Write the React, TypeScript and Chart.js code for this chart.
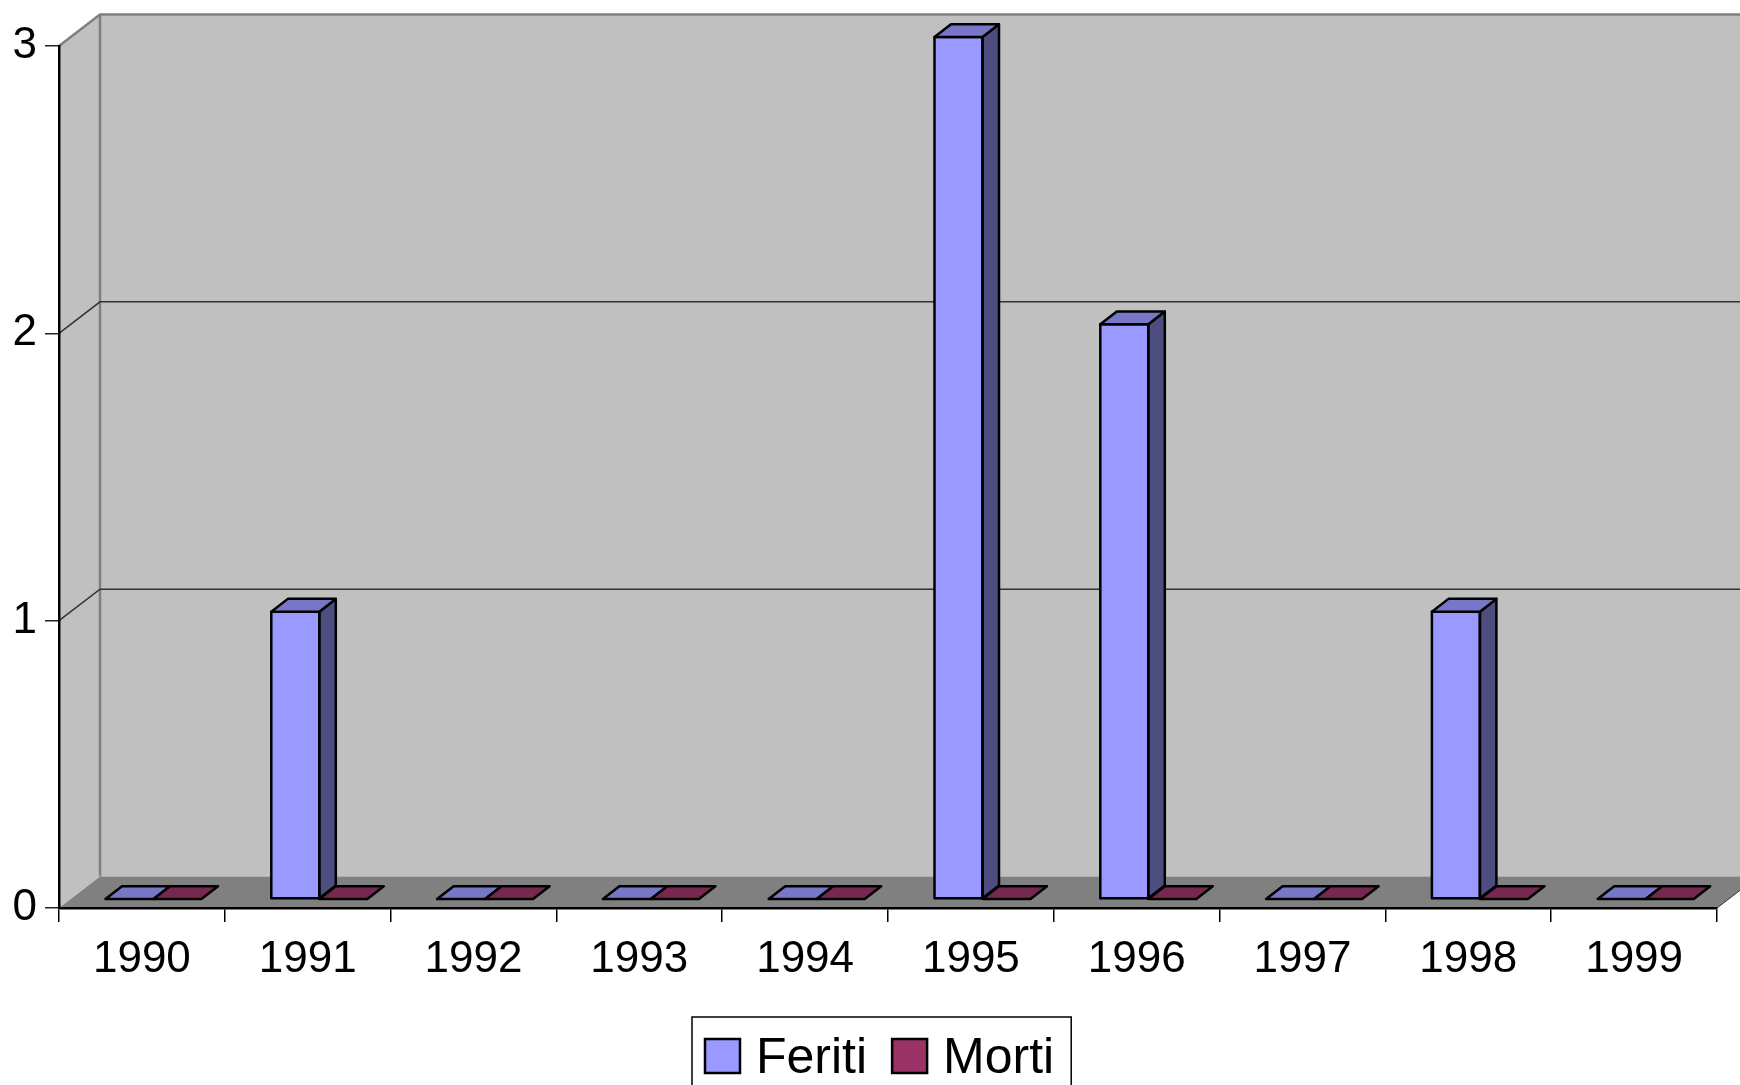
import React, { useEffect, useRef } from "react";
import { Chart, registerables } from "chart.js";

Chart.register(...registerables);

const years = ["1990", "1991", "1992", "1993", "1994", "1995", "1996", "1997", "1998", "1999"];
const feriti = [0, 1, 0, 0, 0, 3, 2, 0, 1, 0];
const morti = [0, 0, 0, 0, 0, 0, 0, 0, 0, 0];
const seriesNames = ["Feriti", "Morti"];
const seriesColors = ["#9999FF", "#993366"];
const topColors = ["#7777C7", "#772850"];
const sideColors = ["#4D4D80", "#4D1A33"];

const W = 1740;
const H = 1085;
const FONT = "'Liberation Sans', Arial, sans-serif";
// wall depth offset
const WDX = 41;
const WDY = -31.5;
// bar placement offset into depth
const BX = 11.6;
const BY = -9;
// bar depth
const BDX = 16.5;
const BDY = -12.8;

const threeD = {
  id: "threeD",
  beforeDraw(chart: any) {
    const { ctx, chartArea, scales } = chart;
    const y = scales.y;
    const L = chartArea.left;
    const R = chartArea.right;
    const T = chartArea.top;
    const B = chartArea.bottom;
    ctx.save();
    // back wall
    ctx.fillStyle = "#C0C0C0";
    ctx.fillRect(L + WDX, T + WDY, W - (L + WDX), B - T);
    // side wall
    ctx.beginPath();
    ctx.moveTo(L, T);
    ctx.lineTo(L + WDX, T + WDY);
    ctx.lineTo(L + WDX, B + WDY);
    ctx.lineTo(L, B);
    ctx.closePath();
    ctx.fill();
    // floor
    ctx.fillStyle = "#808080";
    ctx.beginPath();
    ctx.moveTo(L, B);
    ctx.lineTo(L + WDX, B + WDY);
    ctx.lineTo(R + WDX, B + WDY);
    ctx.lineTo(R, B);
    ctx.closePath();
    ctx.fill();
    ctx.strokeStyle = "#303030";
    ctx.lineWidth = 1;
    ctx.beginPath();
    ctx.moveTo(R, B);
    ctx.lineTo(R + WDX, B + WDY);
    ctx.stroke();
    // wall edges
    ctx.strokeStyle = "#808080";
    ctx.lineWidth = 2.5;
    ctx.beginPath();
    ctx.moveTo(L, T);
    ctx.lineTo(L + WDX, T + WDY);
    ctx.lineTo(W, T + WDY);
    ctx.moveTo(L + WDX, T + WDY);
    ctx.lineTo(L + WDX, B + WDY);
    ctx.stroke();
    // gridlines
    ctx.strokeStyle = "#333333";
    ctx.lineWidth = 1.5;
    y.ticks.forEach((t: any) => {
      if (t.value <= y.min || t.value >= y.max) return;
      const py = y.getPixelForValue(t.value);
      ctx.beginPath();
      ctx.moveTo(L, py);
      ctx.lineTo(L + WDX, py + WDY);
      ctx.lineTo(W, py + WDY);
      ctx.stroke();
    });
    ctx.restore();
  },
  beforeDatasetsDraw(chart: any) {
    chart.ctx.save();
    chart.ctx.translate(BX, BY);
  },
  afterDatasetsDraw(chart: any) {
    const ctx = chart.ctx;
    ctx.strokeStyle = "#000";
    ctx.lineWidth = 2.5;
    ctx.lineJoin = "round";
    const metas = chart.getSortedVisibleDatasetMetas();
    const n = metas[0].data.length;
    for (let i = 0; i < n; i++) {
      metas.forEach((meta: any) => {
        const di = meta.index;
        const el = meta.data[i];
        const { x, y, base, width } = el.getProps(["x", "y", "base", "width"], true);
        const xl = x - width / 2;
        const xr = x + width / 2;
        const top = Math.min(y, base);
        // side face
        if (Math.abs(base - y) > 0.5) {
          ctx.fillStyle = sideColors[di];
          ctx.beginPath();
          ctx.moveTo(xr, top);
          ctx.lineTo(xr + BDX, top + BDY);
          ctx.lineTo(xr + BDX, base + BDY);
          ctx.lineTo(xr, base);
          ctx.closePath();
          ctx.fill();
          ctx.stroke();
          ctx.strokeRect(xl, top, width, base - top);
        }
        // top face
        ctx.fillStyle = topColors[di];
        ctx.beginPath();
        ctx.moveTo(xl, top);
        ctx.lineTo(xl + BDX, top + BDY);
        ctx.lineTo(xr + BDX, top + BDY);
        ctx.lineTo(xr, top);
        ctx.closePath();
        ctx.fill();
        ctx.stroke();
      });
    }
    ctx.restore();
  },
  afterDraw(chart: any) {
    const ctx = chart.ctx;
    ctx.save();
    ctx.font = `50px ${FONT}`;
    const sw = 35;
    const gapText = 16;
    const gapItem = 25;
    const padL = 13;
    const padR = 17;
    let total = padL + padR;
    seriesNames.forEach((s, i) => {
      total += sw + gapText + ctx.measureText(s).width + (i < seriesNames.length - 1 ? gapItem : 0);
    });
    const bx = Math.round(W / 2 - total / 2) + 12;
    const by = 1017;
    ctx.fillStyle = "#fff";
    ctx.fillRect(bx, by, total, 90);
    ctx.strokeStyle = "#000";
    ctx.lineWidth = 1.5;
    ctx.strokeRect(bx, by, total, 90);
    let cx = bx + padL;
    seriesNames.forEach((s, i) => {
      ctx.fillStyle = seriesColors[i];
      ctx.fillRect(cx, 1039, sw, 34);
      ctx.lineWidth = 2.5;
      ctx.strokeStyle = "#000";
      ctx.strokeRect(cx, 1039, sw, 34);
      cx += sw + gapText;
      ctx.fillStyle = "#000";
      ctx.textBaseline = "alphabetic";
      ctx.fillText(s, cx, 1073);
      cx += ctx.measureText(s).width + gapItem;
    });
    ctx.restore();
  },
};

export default function App() {
  const ref = useRef<HTMLCanvasElement>(null);
  useEffect(() => {
    document.body.style.margin = "0";
    const canvas = ref.current!;
    const chart = new Chart(canvas, {
      type: "bar",
      data: {
        labels: years,
        datasets: [
          {
            label: seriesNames[0],
            data: feriti,
            backgroundColor: seriesColors[0],
            borderColor: "#000",
            borderWidth: 0,
          },
          {
            label: seriesNames[1],
            data: morti,
            backgroundColor: seriesColors[1],
            borderColor: "#000",
            borderWidth: 0,
          },
        ],
      },
      options: {
        responsive: false,
        devicePixelRatio: 1,
        animation: false,
        events: [],
        clip: false as any,
        categoryPercentage: 0.579,
        barPercentage: 1,
        layout: { padding: { left: 0, top: 46, right: 23, bottom: 0 } },
        plugins: {
          legend: { display: false },
          tooltip: { enabled: false },
          title: { display: false },
        },
        scales: {
          x: {
            offset: true,
            grid: {
              offset: true,
              drawOnChartArea: false,
              drawTicks: true,
              tickLength: 14,
              color: "#000",
              lineWidth: 1.5,
            },
            border: { display: true, color: "#000", width: 2.5 },
            ticks: {
              color: "#000",
              font: { family: FONT, size: 44 },
              padding: 11,
              maxRotation: 0,
              autoSkip: false,
            },
            afterFit: (s: any) => {
              s.height = H - 908;
            },
          },
          y: {
            min: 0,
            max: 3,
            grid: {
              drawOnChartArea: false,
              drawTicks: true,
              tickLength: 14,
              color: "#222",
              lineWidth: 1.5,
            },
            border: { display: true, color: "#000", width: 2.5 },
            ticks: {
              stepSize: 1,
              color: "#000",
              font: { family: FONT, size: 44 },
              padding: 8,
            },
            afterFit: (s: any) => {
              s.width = 59;
            },
          },
        },
      },
      plugins: [threeD],
    });
    return () => chart.destroy();
  }, []);
  return <canvas ref={ref} width={W} height={H} style={{ display: "block", width: W, height: H }} />;
}
